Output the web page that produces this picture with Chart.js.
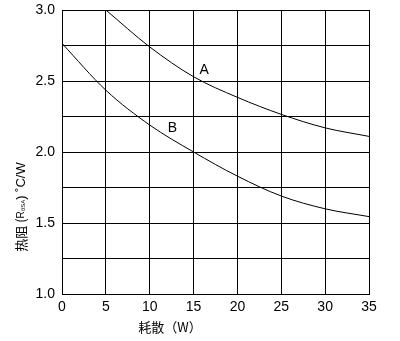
<!DOCTYPE html>
<html>
<head>
<meta charset="utf-8">
<script src="https://cdn.jsdelivr.net/npm/chart.js@4"></script>
<style>
  html, body { margin: 0; padding: 0; background: #fff; }
  #wrap { width: 400px; height: 341px; }
</style>
</head>
<body>
<div id="wrap"><canvas id="thermalChart" width="400" height="341"></canvas></div>
<script>
// ---------------- Data ---------------------------------------------------
const powerA = [5, 10, 15, 20, 25, 30, 35];
const resistA = [3.0, 2.74, 2.53, 2.385, 2.265, 2.17, 2.11];
const powerB = [0, 5, 10, 15, 20, 25, 30, 35];
const resistB = [2.765, 2.435, 2.19, 2.0, 1.83, 1.69, 1.6, 1.545];
const curveNames = ['A', 'B'];
const namePos = [[16.2, 2.575], [12.6, 2.17]];
const xTickStep = 5;
const yTickStep = 0.25;

const FONT = '"Liberation Sans", Arial, sans-serif';
const CJK = '"Noto Sans CJK SC", "Liberation Sans", sans-serif';

function toPoints(xs, ys) {
    return xs.map((x, i) => ({ x: x, y: ys[i] }));
}

// curve names and axis titles, drawn straight onto the canvas
const annotate = {
    id: 'annotate',
    afterDraw(chart) {
        const ctx = chart.ctx;
        const xs = chart.scales.x, ys = chart.scales.y;
        ctx.save();
        ctx.fillStyle = '#000';
        ctx.textAlign = 'center';
        ctx.textBaseline = 'middle';
        ctx.font = '14px ' + FONT;
        curveNames.forEach((n, i) => {
            ctx.fillText(n, xs.getPixelForValue(namePos[i][0]), ys.getPixelForValue(namePos[i][1]));
        });

        // x title
        ctx.font = '13px ' + CJK;
        ctx.fillText('耗散（W）', 170, 327);

        // y title, rotated, with subscript
        ctx.translate(21, 207);
        ctx.rotate(-Math.PI / 2);
        ctx.textAlign = 'left';
        const parts = [
            ['热阻 (', '13px ' + CJK, 0],
            ['R', '10px ' + FONT, 0],
            ['θSA', '6px ' + FONT, 2],
            [') ˚C/W', '13px ' + FONT, 0]
        ];
        let total = 0;
        parts.forEach(p => { ctx.font = p[1]; total += ctx.measureText(p[0]).width; });
        let px = -total / 2;
        parts.forEach(p => {
            ctx.font = p[1];
            ctx.fillText(p[0], px, p[2]);
            px += ctx.measureText(p[0]).width;
        });
        ctx.restore();
    }
};

const lineStyle = {
    borderColor: '#000',
    borderWidth: 1,
    pointRadius: 0,
    fill: false,
    cubicInterpolationMode: 'monotone'
};

new Chart(document.getElementById('thermalChart'), {
    type: 'scatter',
    data: {
        datasets: [
            Object.assign({ label: 'A', data: toPoints(powerA, resistA), showLine: true }, lineStyle),
            Object.assign({ label: 'B', data: toPoints(powerB, resistB), showLine: true }, lineStyle)
        ]
    },
    options: {
        responsive: false,
        animation: false,
        layout: { padding: { top: 10, right: 31, left: 0, bottom: 0 } },
        plugins: { legend: { display: false }, tooltip: { enabled: false } },
        scales: {
            x: {
                min: 0, max: 35,
                afterFit: s => { s.height = 47; s.paddingRight = 0; s.paddingLeft = 0; },
                border: { color: '#000', width: 1 },
                grid: { color: '#000', lineWidth: 1, drawTicks: false },
                ticks: {
                    stepSize: xTickStep, color: '#000', padding: 5,
                    font: { family: FONT, size: 14 }
                }
            },
            y: {
                min: 1.0, max: 3.0,
                afterFit: s => { s.width = 62; s.paddingTop = 0; s.paddingBottom = 0; },
                border: { color: '#000', width: 1 },
                grid: { color: '#000', lineWidth: 1, drawTicks: false },
                ticks: {
                    stepSize: yTickStep, color: '#000', padding: 7,
                    font: { family: FONT, size: 14 },
                    callback: v => (Math.abs(v * 2 - Math.round(v * 2)) < 1e-6 ? v.toFixed(1) : '')
                }
            }
        }
    },
    plugins: [annotate]
});
</script>
</body>
</html>
